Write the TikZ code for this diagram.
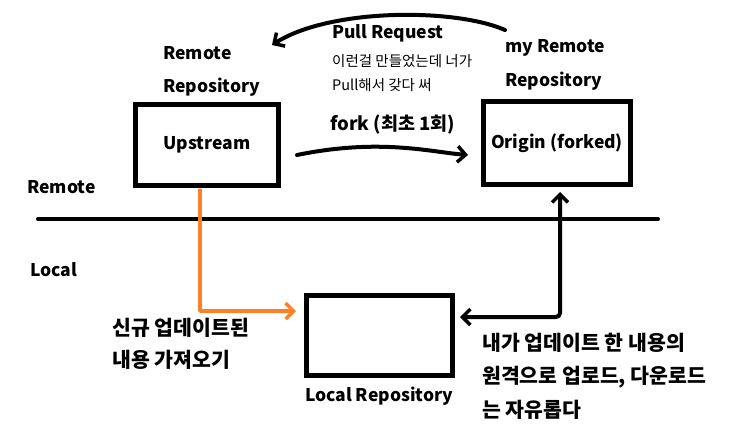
\documentclass[tikz,border=0pt]{standalone}
\usepackage{fontspec}
\setmainfont{Noto Sans CJK KR}
\usetikzlibrary{arrows.meta}
\definecolor{paintorange}{HTML}{FF7F27}
\tikzset{
  lbl/.style={anchor=west,inner sep=0pt,font=\fontsize{17.5}{20}\selectfont\bfseries},
  krlbl/.style={anchor=west,inner sep=0pt,font=\fontsize{20.5}{23}\selectfont\bfseries},
  small/.style={anchor=west,inner sep=0pt,font=\fontsize{14.5}{17}\selectfont},
  repo/.style={draw,line width=4.5pt,inner sep=0pt,font=\fontsize{17.5}{20}\selectfont\bfseries},
  stroke/.style={line width=4pt,line cap=round,line join=round},
  tip/.style={-{Straight Barb[length=8pt,width=16pt,line width=3.5pt]}},
  bothtip/.style={{Straight Barb[length=8pt,width=16pt,line width=3.5pt]}-{Straight Barb[length=8pt,width=16pt,line width=3.5pt]}}
}
\begin{document}
\begin{tikzpicture}[x=1pt,y=-1pt]
\useasboundingbox[fill=white] (0,0) rectangle (741,437);
% boxes
\node[repo,minimum width=143pt,minimum height=81pt] (up) at (207,145) {Upstream};
\node[repo,minimum width=147pt,minimum height=83pt] (orig) at (557,143) {Origin (forked)};
\node[repo,minimum width=146pt,minimum height=80pt] (loc) at (379.5,335.5) {};
% labels
\node[lbl] (rr1) at (163,53) {Remote};
\node[lbl] (rr2) at (163,87) {Repository};
\node[lbl] (pr) at (332,33) {Pull Request};
\node[small] (pr1) at (332,61) {이런걸 만들었는데 너가};
\node[small] (pr2) at (332,85) {Pull해서 갖다 써};
\node[lbl] (mr1) at (505,48) {my Remote};
\node[lbl] (mr2) at (505,81) {Repository};
\node[lbl,font=\fontsize{18.5}{21}\selectfont\bfseries] (fk) at (330,125) {fork (최초 1회)};
\node[lbl] (remote) at (27,187) {Remote};
\node[lbl] (local) at (30,270) {Local};
\node[krlbl] (n1) at (112,328) {신규 업데이트된};
\node[krlbl] (n2) at (112,360) {내용 가져오기};
\node[lbl,anchor=center] (lr) at (379,396) {Local Repository};
\node[krlbl] (m1) at (482,343) {내가 업데이트 한 내용의};
\node[krlbl] (m2) at (482,377) {원격으로 업로드, 다운로드};
\node[krlbl] (m3) at (482,410) {는 자유롭다};
% divider
\coordinate (dl) at (38,219);
\coordinate (dr) at (658,219);
\draw[stroke] (dl) -- (dr);
% fork arrow
\coordinate (f1) at (297,155);
\coordinate (f2) at (468,155);
\draw[stroke,tip] (f1) .. controls (380,138) and (430,152) .. (f2);
% pull request arrow
\coordinate (p1) at (505,30);
\coordinate (p2) at (272,45);
\draw[stroke,tip] (p1) .. controls (455,8) and (330,8) .. (p2);
% orange fetch arrow
\coordinate (o1) at (200,190);
\coordinate (o2) at (296,311);
\draw[paintorange,stroke,line width=3.5pt,tip] (o1) |- (o2);
% push/pull arrow
\coordinate (b1) at (460,317);
\coordinate (b2) at (560,192);
\draw[stroke,bothtip,rounded corners=4pt] (b1) -| (b2);
\end{tikzpicture}
\end{document}
